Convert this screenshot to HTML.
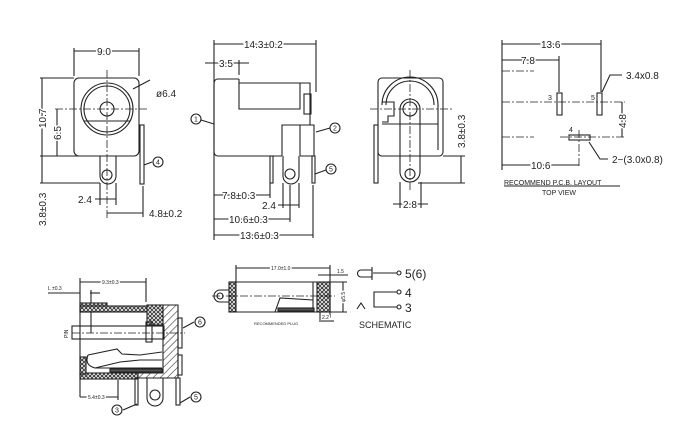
<!DOCTYPE html>
<html><head><meta charset="utf-8"><style>
html,body{margin:0;padding:0;background:#fff;width:700px;height:447px;overflow:hidden}
svg{display:block}
text{font-family:"Liberation Sans",sans-serif;fill:#222;paint-order:stroke;stroke:#fff;stroke-width:3px}
text.n{stroke:none;font-size:7px}
</style></head><body>
<svg width="700" height="447" viewBox="0 0 700 447" xmlns="http://www.w3.org/2000/svg">
<defs>
<pattern id="hat" width="5" height="5" patternUnits="userSpaceOnUse" patternTransform="rotate(45)"><line x1="0" y1="0" x2="0" y2="5" stroke="#333" stroke-width="1.2"/></pattern>
<pattern id="dots" width="4" height="4" patternUnits="userSpaceOnUse"><rect width="4" height="4" fill="#fff"/><circle cx="2" cy="2" r="1.5" fill="none" stroke="#333" stroke-width="0.9"/></pattern>
</defs>
<g stroke="#222" stroke-width="1.1" fill="none">
<!-- FRONT VIEW -->
<rect x="74" y="78" width="65" height="78" rx="5"/>
<circle cx="107" cy="109" r="26"/><circle cx="107" cy="109" r="23"/>
<circle cx="107" cy="109" r="7"/>
<line x1="84" y1="121" x2="130" y2="121"/>
<path d="M100 156 V176 A7 7 0 0 0 116 176 V156"/>
<circle cx="107" cy="175" r="5"/>
<rect x="140" y="125" width="4" height="59"/>
<g stroke-dasharray="8 2 2 2" stroke-width="0.8"><line x1="107" y1="70" x2="107" y2="220"/><line x1="55" y1="109" x2="148" y2="109"/></g>
<line x1="74" y1="76" x2="74" y2="48"/><line x1="139" y1="76" x2="139" y2="48"/>
<line x1="74" y1="51" x2="139" y2="51"/>
<line x1="40" y1="78" x2="74" y2="78"/><line x1="40" y1="156" x2="100" y2="156"/><line x1="40" y1="183" x2="100" y2="183"/>
<line x1="42" y1="78" x2="42" y2="156"/><line x1="57" y1="109" x2="57" y2="156"/>
<line x1="42" y1="156" x2="42" y2="183"/>
<line x1="100" y1="183" x2="100" y2="205"/><line x1="116" y1="183" x2="116" y2="205"/>
<line x1="95" y1="199" x2="116" y2="199"/>
<line x1="143" y1="186" x2="143" y2="217"/><line x1="107" y1="213" x2="143" y2="213"/>
<line x1="133" y1="89" x2="150" y2="80"/>
<line x1="144" y1="165" x2="152" y2="162"/><circle cx="158" cy="162" r="5"/>
<!-- SIDE VIEW -->
<path d="M239 79 H218 Q214 79 214 84 V151 Q214 156 218 156 H282"/>
<path d="M239 79 V109 H300 V83 H239"/>
<path d="M300 83 H310 V125 H300"/><rect x="304" y="94" width="7" height="20"/>
<path d="M282 156 V125 H314 V156 H300"/><line x1="300" y1="125" x2="300" y2="156"/>
<rect x="270" y="156" width="3" height="27"/>
<path d="M283 156 V176 A8 8 0 0 0 299 176 V156"/><circle cx="290" cy="174" r="5"/>
<rect x="312" y="156" width="3" height="27"/>
<line x1="214" y1="40" x2="214" y2="240"/><line x1="316" y1="40" x2="316" y2="92"/>
<line x1="214" y1="44" x2="316" y2="44"/>
<line x1="239" y1="60" x2="239" y2="75"/><line x1="205" y1="63" x2="249" y2="63"/>
<line x1="270" y1="183" x2="270" y2="198"/><line x1="214" y1="195" x2="270" y2="195"/>
<line x1="283" y1="183" x2="283" y2="208"/><line x1="299" y1="183" x2="299" y2="208"/><line x1="278" y1="205" x2="299" y2="205"/>
<line x1="290" y1="185" x2="290" y2="222"/><line x1="214" y1="219" x2="290" y2="219"/>
<line x1="313" y1="185" x2="313" y2="238"/><line x1="214" y1="235" x2="313" y2="235"/>
<line x1="201" y1="120" x2="214" y2="124"/><circle cx="196" cy="119" r="5"/>
<line x1="316" y1="132" x2="330" y2="128"/><circle cx="335" cy="128" r="5"/>
<line x1="315" y1="174" x2="326" y2="170"/><circle cx="331" cy="169" r="5"/>
<!-- BACK VIEW -->
<rect x="378" y="78" width="65" height="78" rx="4"/>
<path d="M382 105 A28 28 0 0 1 438 105 V150" /><path d="M386 105 A24 24 0 0 1 434 105"/>
<path d="M382 102 H394 V116 H388 V122 H382"/>
<path d="M400 109 A10 10 0 0 1 420 109 V172 A10 10 0 0 1 400 172 Z"/>
<circle cx="410" cy="109" r="7"/><circle cx="410" cy="174" r="5"/>
<rect x="374" y="125" width="4" height="58"/>
<line x1="382" y1="124" x2="438" y2="124"/>
<g stroke-dasharray="8 2 2 2" stroke-width="0.8"><line x1="410" y1="70" x2="410" y2="190"/><line x1="370" y1="109" x2="452" y2="109"/></g>
<line x1="443" y1="156" x2="465" y2="156"/><line x1="418" y1="183" x2="465" y2="183"/><line x1="461" y1="156" x2="461" y2="183"/>
<line x1="400" y1="182" x2="400" y2="208"/><line x1="421" y1="182" x2="421" y2="208"/><line x1="393" y1="204" x2="428" y2="204"/>
<!-- PCB -->
<line x1="502" y1="40" x2="502" y2="170"/><line x1="601" y1="40" x2="601" y2="92"/><line x1="559" y1="56" x2="559" y2="92"/>
<line x1="502" y1="44" x2="601" y2="44"/><line x1="502" y1="60" x2="559" y2="60"/>
<g stroke-dasharray="8 2 2 2" stroke-width="0.8"><line x1="502" y1="71" x2="534" y2="71"/><line x1="502" y1="137" x2="534" y2="137"/><line x1="502" y1="102" x2="625" y2="102"/><line x1="560" y1="137" x2="625" y2="137"/><line x1="579" y1="130" x2="579" y2="168"/></g>
<rect x="557" y="93" width="5" height="22"/><rect x="597" y="93" width="5" height="22"/>
<rect x="569" y="135" width="21" height="5"/>
<line x1="622" y1="102" x2="622" y2="137"/>
<line x1="502" y1="165" x2="579" y2="165"/>
<path d="M602 92 L610 75 H622"/><path d="M589 142 L600 159 H608"/>
<line x1="504" y1="186" x2="620" y2="186"/>
<!-- CROSS SECTION -->
<line x1="80" y1="278" x2="80" y2="397"/><line x1="146" y1="278" x2="146" y2="302"/><line x1="80" y1="282" x2="146" y2="282"/>
<line x1="48" y1="293" x2="80" y2="293"/><line x1="90" y1="293" x2="100" y2="293"/><line x1="91" y1="290" x2="91" y2="333"/>
<rect x="80" y="303" width="27" height="9" fill="url(#dots)"/>
<rect x="80" y="306" width="67" height="6" fill="url(#dots)"/>
<rect x="147" y="305" width="16" height="20" fill="url(#dots)"/>
<path d="M163 305 H178 V378 H138 V373 H163 V336 H163 Z" fill="url(#hat)"/>
<rect x="80" y="373" width="58" height="6" fill="url(#dots)"/>
<rect x="80" y="357" width="6" height="17" fill="url(#dots)"/>
<rect x="72" y="326" width="92" height="13"/>
<rect x="146" y="322" width="6" height="20"/>
<path d="M88 355 L117 349 L122 354 L140 355 L162 352 M88 355 Q84 365 95 368 L162 368 M95 368 L120 362 L140 360 L162 360"/>
<rect x="110" y="369" width="52" height="3" fill="#555"/>
<rect x="178" y="318" width="4" height="30"/><rect x="178" y="355" width="4" height="20"/>
<rect x="135" y="378" width="3" height="27"/>
<path d="M147 378 V398 A8 8 0 0 0 163 398 V378"/><circle cx="155" cy="395" r="5"/>
<rect x="176" y="378" width="4" height="27"/>
<g stroke-dasharray="8 2 2 2" stroke-width="0.8"><line x1="72" y1="333" x2="185" y2="333"/></g>
<line x1="118" y1="380" x2="118" y2="400"/><line x1="80" y1="397" x2="118" y2="397"/>
<line x1="183" y1="328" x2="194" y2="322"/><circle cx="200" cy="322" r="5"/>
<line x1="137" y1="404" x2="123" y2="410"/><circle cx="117" cy="410" r="5"/>
<line x1="180" y1="403" x2="190" y2="397"/><circle cx="196" cy="397" r="5"/>
<!-- PLUG -->
<rect x="229" y="282" width="7" height="30" fill="url(#dots)"/>
<path d="M229 290 H220 A6 6 0 0 0 220 302 H229"/><circle cx="220" cy="296" r="3"/>
<path d="M236 282 H330 V312 H236"/>
<rect x="317" y="282" width="13" height="30" fill="url(#dots)"/>
<line x1="313" y1="282" x2="313" y2="312"/>
<path d="M275 312 L280 298 L313 300" /><rect x="278" y="308" width="36" height="3" fill="#555"/>
<g stroke-dasharray="8 2 2 2" stroke-width="0.8"><line x1="212" y1="296" x2="335" y2="296"/></g>
<line x1="236" y1="265" x2="236" y2="282"/><line x1="330" y1="265" x2="330" y2="318"/><line x1="236" y1="268" x2="330" y2="268"/>
<line x1="318" y1="275" x2="348" y2="275"/><line x1="330" y1="282" x2="347" y2="282"/><line x1="330" y1="312" x2="347" y2="312"/><line x1="343" y1="282" x2="343" y2="312"/>
<line x1="320" y1="312" x2="320" y2="322"/><line x1="321" y1="321" x2="334" y2="321"/>
<!-- SCHEMATIC -->
<path d="M361 270 H372 V277 H361 A3.5 3.5 0 0 1 361 270"/><line x1="372" y1="267" x2="372" y2="280"/>
<line x1="373" y1="273" x2="397" y2="273"/><circle cx="399" cy="273" r="2"/>
<path d="M397 292 H374 V307 H397"/><circle cx="399" cy="292" r="2"/><circle cx="399" cy="307" r="2"/>
<path d="M357 309 L361 303 L365 309"/>
</g>
<g text-anchor="middle">
<text class="n" x="158" y="164.5">4</text>
<text class="n" x="196" y="121.5">1</text>
<text class="n" x="335" y="130.5">2</text>
<text class="n" x="331" y="171.5">5</text>
<text class="n" x="200" y="324.5">6</text>
<text class="n" x="117" y="412.5">3</text>
<text class="n" x="196" y="399.5">5</text>
</g>
<g font-size="10">
<text x="97" y="55">9.0</text>
<text x="156" y="97">ø6.4</text>
<text transform="translate(46,128) rotate(-90)">10.7</text>
<text transform="translate(61,140) rotate(-90)">6.5</text>
<text transform="translate(46,226) rotate(-90)">3.8±0.3</text>
<text x="78" y="203">2.4</text>
<text x="149" y="217">4.8±0.2</text>
<text x="244" y="48">14.3±0.2</text>
<text x="219" y="67">3.5</text>
<text x="222" y="199">7.8±0.3</text>
<text x="262" y="209">2.4</text>
<text x="229" y="223">10.6±0.3</text>
<text x="240" y="239">13.6±0.3</text>
<text transform="translate(465,148) rotate(-90)">3.8±0.3</text>
<text x="403" y="208">2.8</text>
<text x="541" y="48">13.6</text>
<text x="521" y="64">7.8</text>
<text x="626" y="79">3.4x0.8</text>
<text transform="translate(626,128) rotate(-90)">4.8</text>
<text x="612" y="163">2−(3.0x0.8)</text>
<text x="531" y="169">10.6</text>
<text x="405" y="278" font-size="12">5(6)</text>
<text x="405" y="297" font-size="12">4</text>
<text x="405" y="312" font-size="12">3</text>
<text x="359" y="328" font-size="9">SCHEMATIC</text>
</g>
<g font-size="7">
<text x="548" y="100">3</text><text x="591" y="100">5</text><text x="569" y="132">4</text>
<text x="504" y="185" style="stroke:none">RECOMMEND P.C.B. LAYOUT</text>
<text x="542" y="195">TOP VIEW</text>
</g>
<g font-size="5">
<text x="102" y="284">9.3±0.3</text>
<text x="48" y="290">L ±0.3</text>
<text x="88" y="399">5.4±0.3</text>
<text transform="translate(68,338) rotate(-90)">PIN</text>
<text x="271" y="270">17.0±1.0</text>
<text x="337" y="273">1.5</text>
<text transform="translate(345,302) rotate(-90)">φ5.5</text>
<text x="322" y="319">2.2</text>
<text x="254" y="325" font-size="4">RECOMMENDED  PLUG</text>
</g>
</svg>
</body></html>
